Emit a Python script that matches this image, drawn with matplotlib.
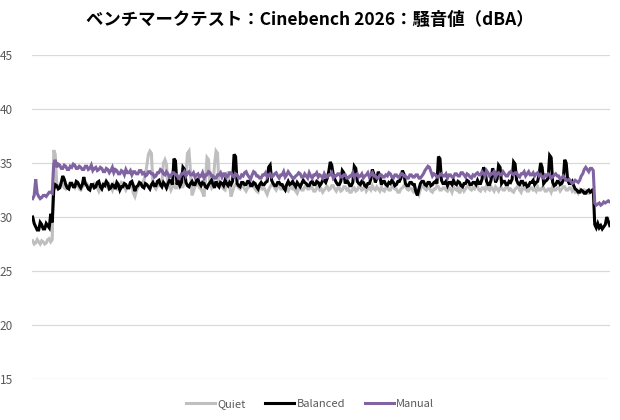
import numpy as np
import matplotlib
matplotlib.use("Agg")
import matplotlib.pyplot as plt

plt.rcParams['font.family'] = ['Noto Sans CJK JP', 'DejaVu Sans']

title = "ベンチマークテスト：Cinebench 2026：騒音値（dBA）"
series_names = ["Quiet", "Balanced", "Manual"]
y_ticks = [15, 20, 25, 30, 35, 40, 45]

quiet = [
    27.8, 27.5, 27.6, 27.9, 27.7, 27.5, 27.8, 27.7, 27.5, 27.6, 27.9, 28.0, 27.7, 27.9,
    36.2, 35.8, 33.1, 32.8, 32.8, 33.1, 33.0, 32.7, 32.6, 32.9, 32.9, 33.2, 33.2, 32.9, 32.7, 33.0, 33.0, 32.6, 32.5, 32.8,
    32.9, 33.2, 33.1, 32.8, 32.6, 32.9, 32.8, 33.1, 33.0, 32.7, 32.4, 32.8, 32.9, 33.1, 33.2, 32.9, 32.7, 33.0, 32.8, 32.5,
    33.0, 32.7, 32.6, 32.9, 32.9, 33.2, 33.1, 32.8, 32.5, 32.8, 32.8, 33.1, 33.0, 32.2, 31.9, 32.4, 32.7, 33.0, 33.0, 33.2,
    33.4, 33.9, 34.8, 35.8, 36.1, 35.9, 33.0, 32.8, 32.6, 32.9, 32.9, 33.1, 33.3, 35.0, 35.3, 34.9, 32.8, 33.0, 32.5, 32.8,
    33.0, 32.7, 32.7, 33.0, 33.1, 32.8, 32.8, 33.3, 34.0, 35.9, 36.1, 34.2, 32.0, 32.4, 32.8, 33.1, 33.0, 32.7, 32.6, 32.3,
    31.9, 33.5, 35.5, 35.3, 33.0, 32.7, 33.0, 34.8, 36.1, 35.9, 32.7, 33.0, 32.9, 32.6, 32.5, 33.2, 34.2, 33.0, 31.9, 32.4,
    32.8, 33.0, 33.0, 32.7, 32.6, 32.9, 32.9, 32.6, 32.4, 32.7, 32.8, 33.0, 33.1, 32.8, 32.6, 32.4, 32.3, 32.7, 32.9, 32.6,
    32.7, 32.4, 32.1, 32.5, 32.8, 33.0, 33.0, 32.7, 32.5, 32.8, 32.9, 32.6, 32.6, 32.9, 32.8, 32.5, 32.4, 32.7, 32.9, 32.6,
    32.6, 32.4, 32.2, 32.6, 32.8, 32.5, 32.5, 32.8, 32.9, 32.6, 32.6, 32.8, 32.7, 32.4, 32.4, 32.7, 32.8, 32.5, 32.6, 32.3,
    32.5, 32.7, 32.8, 32.5, 32.6, 32.9, 32.9, 32.6, 32.4, 32.7, 32.7, 32.4, 32.5, 32.8, 32.8, 32.5, 32.6, 32.3, 32.3, 32.6,
    32.7, 32.4, 32.5, 32.8, 32.8, 32.5, 32.6, 32.9, 32.4, 32.6, 32.7, 32.5, 32.9, 32.6, 32.5, 32.8, 32.6, 32.4, 32.8, 32.5,
    32.4, 32.7, 32.7, 32.5, 32.5, 32.8, 32.8, 32.6, 32.6, 32.3, 32.3, 32.6, 32.7, 32.9, 32.9, 32.6, 32.5, 32.7, 32.6, 32.4,
    32.8, 32.5, 32.4, 32.1, 32.6, 32.8, 32.9, 32.6, 32.5, 32.7, 32.7, 32.4, 32.3, 32.6, 32.6, 32.9, 32.8, 32.5, 32.5, 32.7,
    32.7, 32.5, 32.4, 32.7, 32.6, 32.3, 32.8, 32.6, 32.5, 32.8, 32.2, 32.5, 32.7, 32.4, 32.6, 32.8, 32.9, 32.6, 32.5, 32.7,
    32.6, 32.9, 32.8, 32.5, 32.4, 32.7, 32.7, 32.5, 32.9, 32.6, 32.5, 32.8, 32.6, 32.4, 32.8, 32.6, 32.4, 32.7, 32.7, 32.5,
    32.5, 32.8, 32.8, 32.5, 32.6, 32.4, 32.3, 32.6, 32.7, 32.9, 32.5, 32.3, 32.8, 32.6, 32.6, 32.4, 32.4, 32.7, 32.7, 32.5,
    32.6, 32.4, 32.8, 32.5, 32.5, 32.7, 32.7, 32.4, 32.4, 32.6, 32.6, 32.3, 32.8, 32.5, 32.5, 32.7, 32.7, 32.4, 32.6, 32.8,
    32.8, 32.5, 32.5, 32.7, 32.7, 32.4, 32.6, 32.3, 32.4, 32.2, 32.5, 32.3, 32.3, 32.5, 32.4, 32.2, 32.2, 32.4, 32.3, 32.5,
    None, None, None, None, None, None, None, None, None, None, None,
]

balanced = [
    30.0, 29.4, 29.1, 28.8, 28.8, 29.5, 29.3, 28.9, 28.9, 29.4, 29.2, 29.0, 30.3, 29.5,
    32.5, 33.0, 32.9, 32.6, 32.7, 33.2, 33.8, 33.5, 33.0, 32.7, 32.6, 33.1, 33.1, 32.8, 32.8, 33.3, 33.2, 32.9, 32.7, 33.0,
    33.7, 33.1, 32.9, 32.6, 32.5, 33.0, 33.0, 32.7, 32.8, 33.2, 33.3, 32.8, 32.6, 33.0, 32.9, 33.3, 33.1, 32.6, 32.7, 33.0,
    32.9, 32.6, 33.2, 33.0, 32.5, 32.8, 32.8, 33.1, 33.0, 32.7, 32.7, 33.2, 33.3, 32.9, 32.4, 32.8, 32.9, 33.2, 33.1, 32.8,
    32.7, 33.1, 33.0, 32.8, 32.6, 33.0, 33.2, 32.9, 32.9, 33.3, 33.4, 33.0, 32.8, 33.2, 33.0, 32.7, 33.1, 33.4, 33.3, 33.0,
    35.4, 35.2, 33.0, 33.3, 32.9, 33.2, 34.6, 34.4, 33.2, 32.9, 32.8, 33.1, 33.3, 33.0, 33.0, 33.4, 33.5, 33.1, 32.9, 33.2,
    33.1, 32.8, 32.7, 33.0, 33.2, 33.4, 33.0, 32.7, 33.3, 33.0, 32.8, 33.2, 33.1, 32.9, 33.4, 33.1, 32.9, 33.2, 33.0, 33.3,
    35.8, 35.6, 33.1, 32.9, 32.8, 33.2, 33.2, 33.0, 33.0, 33.3, 33.3, 32.9, 32.9, 33.2, 33.1, 32.8, 32.6, 33.0, 33.2, 33.0,
    33.0, 33.2, 33.3, 34.6, 34.8, 33.4, 33.1, 32.9, 32.9, 33.2, 33.2, 33.0, 33.0, 32.7, 32.5, 33.0, 33.3, 33.0, 33.1, 33.3,
    33.0, 32.8, 33.2, 33.0, 32.8, 33.1, 33.4, 33.2, 33.1, 32.9, 32.9, 33.2, 33.3, 33.0, 33.0, 33.3, 33.2, 32.9, 33.1, 33.4,
    33.4, 33.2, 33.6, 34.2, 35.1, 34.8, 33.9, 33.5, 33.2, 33.0, 33.0, 33.3, 34.3, 34.1, 33.1, 33.4, 33.2, 32.9, 32.9, 33.2,
    34.7, 34.5, 33.3, 33.1, 33.0, 33.3, 33.2, 32.9, 32.8, 33.1, 33.1, 33.5, 34.4, 34.0, 33.2, 33.6, 34.2, 33.8, 33.0, 33.3,
    33.3, 33.0, 32.9, 33.2, 33.1, 33.4, 33.2, 32.9, 33.0, 33.3, 33.3, 33.6, 34.3, 34.0, 33.1, 32.9, 32.9, 33.2, 33.2, 33.0,
    33.0, 32.3, 32.0, 32.6, 33.1, 33.3, 33.3, 33.0, 32.9, 33.2, 33.2, 32.9, 33.0, 33.2, 33.3, 33.1, 35.6, 35.4, 33.4, 33.1,
    33.1, 33.3, 32.9, 33.2, 33.2, 33.0, 33.4, 33.1, 33.0, 33.3, 33.2, 32.9, 32.8, 33.1, 33.1, 33.4, 33.3, 33.0, 33.0, 33.2,
    33.2, 33.0, 33.4, 33.1, 33.1, 33.5, 34.6, 34.3, 33.3, 33.0, 33.0, 33.4, 34.5, 34.2, 33.2, 33.5, 34.8, 34.6, 33.1, 33.3,
    33.3, 33.0, 33.0, 33.3, 33.2, 33.5, 35.1, 34.9, 33.4, 33.1, 33.0, 33.3, 33.3, 33.0, 33.1, 32.8, 32.9, 33.2, 33.2, 33.4,
    33.0, 33.2, 33.3, 34.0, 35.0, 34.6, 33.1, 33.3, 33.4, 33.6, 35.7, 35.5, 33.2, 32.9, 33.0, 33.3, 33.3, 33.0, 33.1, 33.4,
    35.3, 35.0, 33.4, 33.1, 33.1, 33.3, 32.9, 32.6, 32.5, 32.3, 32.3, 32.5, 32.4, 32.2, 32.2, 32.4, 32.5, 32.3, 32.4, 32.6,
    29.3, 29.0, 29.4, 29.0, 29.2, 28.9, 29.1, 29.3, 30.0, 29.6, 29.2,
]

manual = [
    31.7, 32.0, 33.5, 32.2, 31.9, 31.7, 31.8, 32.0, 32.0, 31.9, 32.1, 32.3, 32.3, 32.2,
    34.9, 35.3, 34.6, 34.9, 34.8, 34.5, 34.5, 34.8, 34.7, 34.4, 34.4, 34.7, 34.6, 34.9, 34.8, 34.5, 34.5, 34.7, 34.6, 34.4,
    34.4, 34.7, 34.7, 34.4, 34.5, 34.8, 34.3, 34.5, 34.6, 34.3, 34.4, 34.6, 34.5, 34.2, 34.2, 34.5, 34.4, 34.1, 34.3, 34.6,
    34.1, 34.4, 34.3, 34.0, 34.0, 34.3, 34.2, 33.9, 34.4, 34.1, 34.1, 34.3, 33.9, 34.2, 34.2, 34.0, 34.0, 34.3, 34.3, 34.0,
    34.1, 33.8, 33.9, 34.2, 34.2, 34.0, 34.0, 33.7, 33.8, 34.1, 34.1, 34.4, 34.3, 34.0, 33.9, 34.2, 34.0, 33.7, 33.8, 34.1,
    34.1, 33.9, 33.9, 33.6, 33.7, 34.0, 34.0, 34.2, 33.8, 34.1, 34.2, 33.9, 33.9, 34.1, 33.7, 33.9, 34.0, 33.7, 33.8, 34.1,
    33.6, 33.9, 33.9, 34.2, 34.1, 33.8, 33.8, 33.6, 33.6, 33.9, 33.9, 34.1, 33.7, 34.0, 34.0, 33.7, 33.8, 34.1, 34.1, 33.8,
    33.7, 34.0, 33.9, 33.6, 33.6, 33.9, 33.8, 34.1, 34.2, 33.9, 33.7, 33.5, 33.9, 34.2, 34.1, 33.8, 33.8, 33.6, 33.6, 33.9,
    33.9, 34.1, 33.7, 33.9, 34.0, 33.7, 33.8, 34.0, 34.1, 33.8, 33.6, 33.9, 33.9, 34.2, 33.7, 33.9, 34.2, 34.0, 33.8, 33.6,
    33.6, 33.8, 33.9, 34.1, 34.0, 33.7, 33.7, 34.0, 33.8, 33.6, 34.1, 33.8, 33.6, 33.9, 33.9, 34.1, 33.7, 33.9, 33.8, 33.6,
    34.0, 33.7, 33.7, 33.9, 33.9, 34.1, 33.6, 33.8, 33.8, 34.0, 34.0, 33.7, 33.7, 33.9, 33.9, 33.6, 33.6, 33.8, 33.8, 34.1,
    33.7, 33.9, 34.0, 33.7, 33.8, 34.0, 33.6, 33.8, 33.9, 34.1, 33.7, 33.9, 34.1, 33.8, 33.8, 33.6, 33.6, 33.9, 33.9, 33.7,
    33.7, 33.9, 33.8, 34.1, 34.0, 33.7, 33.6, 33.9, 33.9, 33.7, 33.7, 34.0, 34.0, 33.8, 33.8, 33.6, 33.6, 33.9, 33.9, 33.7,
    33.7, 33.9, 33.9, 33.6, 33.6, 33.8, 34.0, 34.3, 34.5, 34.7, 34.6, 34.2, 33.8, 34.0, 33.9, 33.7, 33.7, 33.9, 34.0, 33.8,
    33.8, 34.0, 33.6, 33.9, 33.9, 33.7, 33.7, 34.0, 34.0, 33.8, 33.8, 34.1, 34.1, 33.9, 33.7, 34.0, 33.9, 33.7, 33.6, 33.9,
    33.8, 34.0, 34.1, 33.9, 33.9, 34.2, 34.0, 33.8, 34.3, 34.1, 33.8, 34.0, 34.0, 34.2, 33.7, 34.0, 34.1, 33.9, 33.9, 34.2,
    34.0, 33.8, 33.8, 34.1, 34.2, 34.0, 33.9, 34.1, 34.1, 33.8, 33.7, 34.0, 34.0, 34.2, 33.8, 34.0, 34.2, 33.9, 33.9, 34.1,
    33.8, 34.0, 34.1, 33.8, 33.9, 33.7, 33.6, 33.9, 33.8, 34.0, 33.9, 33.6, 33.7, 33.9, 34.0, 33.8, 33.8, 33.5, 33.6, 33.8,
    33.6, 33.4, 33.4, 33.5, 33.3, 33.1, 33.2, 33.4, 33.3, 33.2, 33.4, 33.8, 34.0, 34.4, 34.6, 34.4, 34.2, 34.5, 34.5, 34.3,
    31.3, 31.1, 31.2, 31.3, 31.1, 31.2, 31.4, 31.3, 31.4, 31.5, 31.4,
]

colors = ["#BFBFBF", "#000000", "#8064A2"]

fig = plt.figure(figsize=(6.2, 4.2), dpi=100)
ax = fig.add_axes([0.052, 0.0976, 0.932, 0.7714])

for name, vals, c in zip(series_names, [quiet, balanced, manual], colors):
    arr = np.array([np.nan if v is None else v for v in vals], dtype=float)
    ax.plot(np.arange(len(arr)), arr, color=c, lw=2.2, label=name,
            solid_joinstyle='miter')

ax.set_ylim(15, 45)
ax.set_xlim(-0.3, len(balanced) - 0.8)
ax.set_yticks(y_ticks)
ax.set_xticks([])
ax.grid(axis='y', color='#D9D9D9', lw=0.9)
ax.set_axisbelow(True)
for s in ax.spines.values():
    s.set_visible(False)
ax.tick_params(axis='y', length=0, labelsize=8.5, labelcolor='#595959', pad=14)

fig.text(0.5, 0.952, title, ha='center', va='center', fontsize=12.5,
         fontweight='bold', color='#000000')

fig.legend(loc='center', bbox_to_anchor=(0.5, 0.038), ncol=3, frameon=False,
           fontsize=8, handlelength=2.6, handletextpad=0.2, columnspacing=1.8,
           labelcolor='#595959')

fig.savefig("out.png", dpi=100)
